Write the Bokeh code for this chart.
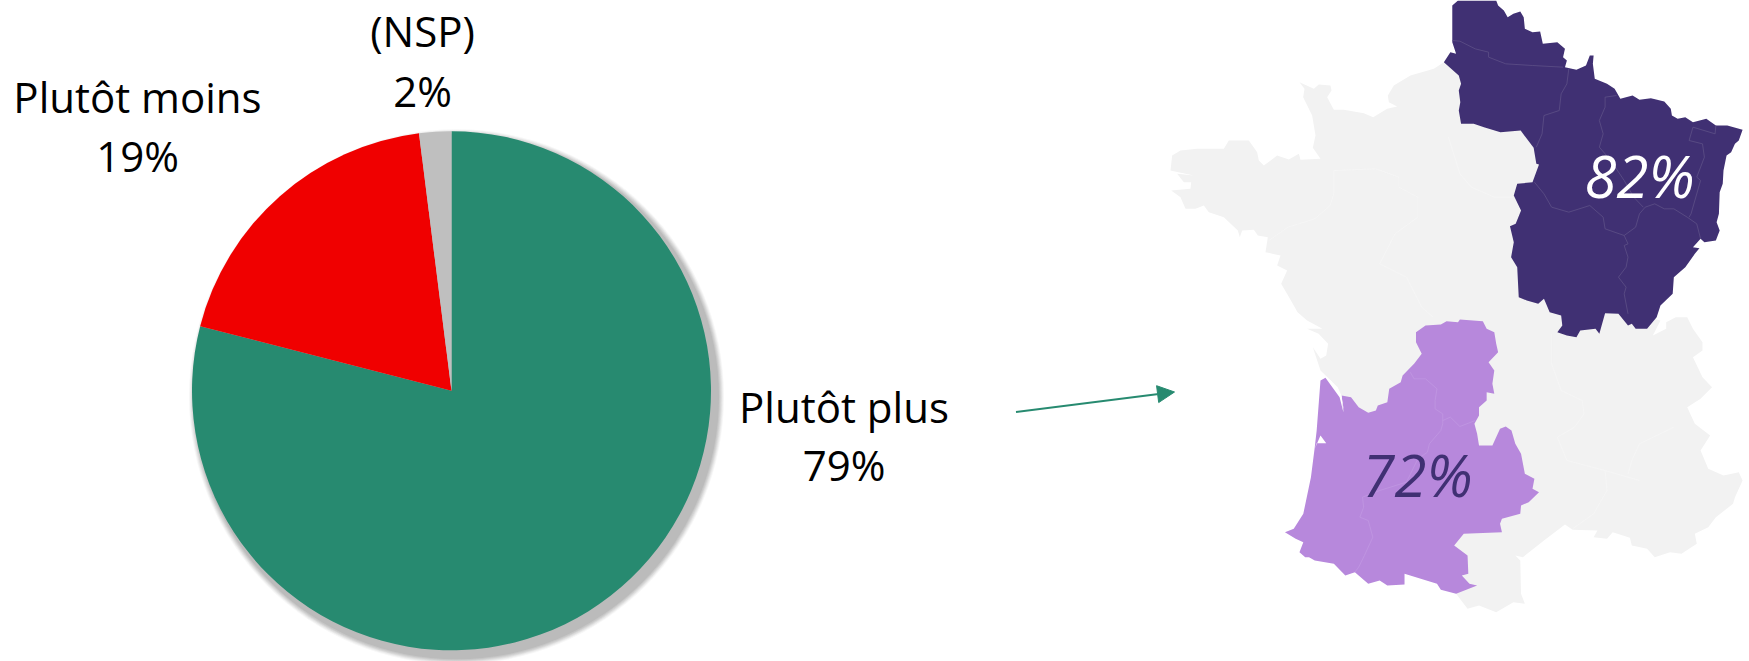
from math import pi
from bokeh.plotting import figure
from bokeh.models import Arrow, NormalHead
from bokeh.core.properties import value
from bokeh.embed import file_html
from bokeh.resources import INLINE

# ---------------- data ----------------
pie_names = ["Plutôt plus", "Plutôt moins", "(NSP)"]
pie_values = [79, 19, 2]
pie_colors = ["#278a70", "#f00000", "#bfbfbf"]
region_shares = ["82%", "72%"]

# North-west coast outline
west_a = [880,850,780,730,712,715,740,710,668,640,580,550,530,543,540,505,490,447,462,458,485,495,487,510,450,445,415,380,340,325,320,295,235,220,180,140,90,65,60,130,80,100,122,120,62,90,105,135,160,175,220,262,268,275,310,322,352,345,390,380,410,392,420]
west_b = [5,25,45,75,105,125,138,145,170,158,148,148,110,90,75,72,85,65,85,110,165,225,262,295,298,280,297,285,315,300,275,240,240,265,265,265,270,285,330,345,340,365,365,385,390,410,445,445,435,455,470,510,530,510,508,525,530,575,585,615,630,670,718]

# Rest of the country outline
france_u = [385,410,450,410,440,465,460,445,425,445,490,500,600,800,830,860,905,950,980,970,968,955,975,1030,1085,1105,1170,1160,1195,1210,1255,1260,1300,1320,1360,1390,1430,1425,1460,1480,1525,1530,1550,1540,1500,1460,1440,1465,1425,1405,1440,1470,1445,1420,1445,1445,1420,1405,1375,1350,1350,1315,1335,1300,1100,860,800]
france_v = [935,960,985,985,1000,1030,1065,1075,1040,1110,1160,1185,1500,1780,1825,1815,1835,1805,1810,1780,1680,1665,1670,1620,1572,1588,1590,1610,1615,1595,1612,1635,1645,1670,1655,1660,1630,1600,1580,1550,1510,1490,1440,1415,1425,1405,1350,1305,1270,1220,1195,1160,1130,1070,1050,1025,985,950,950,965,985,1005,960,950,500,260,170]

dark_u = [790,805,905,910,925,935,950,968,977,980,1000,1020,1027,1065,1085,1080,1090,1085,1115,1140,1150,1160,1158,1163,1195,1215,1230,1262,1280,1310,1345,1362,1365,1380,1400,1420,1455,1480,1510,1550,1540,1530,1520,1508,1500,1498,1490,1488,1482,1490,1480,1450,1440,1420,1437,1425,1400,1370,1367,1335,1325,1300,1270,1260,1250,1225,1190,1175,1165,1125,1115,1090,1065,1078,1075,1045,1030,1015,985,964,960,944,951,941,956,970,951,960,1000,1017,1010,1003,969,916,873,846,813,807,811,807,813,807,768,785,800,790]
dark_v = [15,0,0,15,30,50,40,33,50,85,95,93,130,125,145,170,180,200,208,195,165,165,190,235,250,265,295,285,298,293,303,325,345,355,350,365,355,375,375,388,420,430,455,465,510,550,575,640,665,690,720,725,715,740,743,760,800,830,880,915,950,985,985,970,975,940,938,1000,985,990,1010,1005,995,975,945,935,895,910,900,890,800,770,725,677,670,630,585,550,545,492,490,442,390,395,380,370,370,330,305,270,250,225,185,155,160,125]

purple_u = [720,760,775,805,810,870,880,900,905,910,885,900,895,900,880,880,860,860,848,855,860,895,915,930,945,955,970,980,1005,1000,1017,990,970,968,920,915,920,820,795,830,832,815,835,855,800,760,750,665,665,620,600,570,535,510,480,430,415,405,390,400,380,352,375,400,420,430,435,445,458,495,505,500,525,545,570,590,595,620,625,655,660,690,710,695,695]
purple_v = [975,972,962,965,957,962,985,995,1030,1055,1085,1110,1150,1180,1175,1200,1220,1245,1270,1300,1335,1335,1285,1278,1290,1330,1360,1420,1435,1465,1475,1505,1515,1540,1555,1570,1595,1600,1635,1665,1720,1725,1750,1755,1780,1768,1750,1720,1752,1755,1740,1750,1715,1725,1690,1680,1670,1670,1655,1625,1615,1595,1585,1540,1430,1340,1290,1140,1132,1190,1235,1185,1190,1220,1237,1230,1215,1205,1165,1145,1125,1090,1060,1025,995]

estuary_u = [460,472,500,507,497]
estuary_v = [1132,1140,1185,1237,1183]
bay_u = [445,460,435,430]
bay_v = [1305,1328,1328,1345]

dark_lines = [
    ([790,810,850,885,885,930,1000,1080],[120,122,145,155,170,190,195,200]),
    ([1095,1090,1075,1070,1030,1025,1010],[205,250,280,330,345,400,440]),
    ([1220,1190,1190,1175,1185,1175,1205,1240,1265,1290],[285,290,320,360,400,440,480,540,590,620]),
    ([1005,1030,1050,1095,1150,1185,1190,1240,1270,1280,1295],[545,580,620,635,615,650,685,705,680,640,620]),
    ([1480,1478,1420,1410,1445,1450,1430,1440,1415,1410],[375,400,380,420,430,470,530,540,640,650]),
    ([1295,1320,1345,1370,1405,1430,1440],[620,610,625,625,650,670,715]),
    ([1240,1250,1240,1250,1245,1225,1245,1240,1250],[705,730,735,770,800,830,860,880,940]),
]
purple_lines = [
    ([680,690,720,750,745,745,765,765,760,730,725,700,670,600,555,558,548,570,582,560,545,535],[1115,1135,1135,1165,1200,1225,1240,1270,1290,1330,1355,1375,1445,1470,1490,1520,1550,1560,1610,1665,1700,1715]),
    ([765,785,810,850],[1260,1250,1278,1260]),
]
light_lines = [
    ([480,480,470,430,360,310],[510,580,615,655,680,720]),
    ([480,590,650,650,700,700,640,600,670,710,740],[510,505,530,560,590,650,700,790,830,920,950]),
    ([780,810,840,900,950],[410,520,560,590,590]),
    ([1050,1050,1075,1130,1135,1110,1065,1090,1190,1280],[1000,1090,1170,1200,1240,1280,1310,1380,1410,1440]),
    ([1190,1195,1160,1105],[1410,1470,1540,1585]),
    ([1370,1280,1260,1250],[1280,1330,1380,1420]),
]

# ---------------- helpers ----------------
PAGE_H = 661
def mx(us):
    return [1150 + u * 0.382 for u in us]
def my(vs):
    return [PAGE_H - v / 3 for v in vs]

p = figure(width=1749, height=661, x_range=(0, 1749), y_range=(0, 661),
           x_axis_type=None, y_axis_type=None, toolbar_location=None,
           output_backend="svg", min_border=0, outline_line_color=None,
           background_fill_color="white", border_fill_color="white")
p.grid.visible = False

CX, CY, R = 451, PAGE_H - 390.3, 259.5

# shadow: soft rim then solid band
for dr, a in [(8, .12), (7, .18), (6, .25), (5, .35), (4, .5), (3, 1)]:
    p.circle(x=[CX + 5], y=[CY - 6], radius=R + dr, fill_color="#bbbbbb",
             fill_alpha=a, line_color=None)

# pie
total = sum(pie_values)
angle = pi / 2
ends, starts = [], []
for v in pie_values:
    next_angle = angle - 2 * pi * v / total
    starts.append(next_angle)
    ends.append(angle)
    angle = next_angle
p.wedge(x=[CX] * 3, y=[CY] * 3, radius=R, start_angle=starts, end_angle=ends,
        fill_color=pie_colors, line_color=None)

# map
fx = [1150 + a / 3 for a in west_a] + mx(france_u)
fy = [PAGE_H - (60 + b / 3) for b in west_b] + my(france_v)
p.patch(fx, fy, fill_color="#f2f2f2", line_color=None)
p.multi_line([mx(a) for a, b in light_lines], [my(b) for a, b in light_lines],
             line_color="#f7f7f7", line_width=0.7)
p.patch(mx(dark_u), my(dark_v), fill_color="#403073", line_color=None)
p.patch(mx(purple_u), my(purple_v), fill_color="#b788dc", line_color=None)
p.patch(mx(estuary_u), my(estuary_v), fill_color="white", line_color=None)
p.patch(mx(bay_u), my(bay_v), fill_color="white", line_color=None)
p.multi_line([mx(a) for a, b in dark_lines], [my(b) for a, b in dark_lines],
             line_color="#625589", line_width=0.7)
p.multi_line([mx(a) for a, b in purple_lines], [my(b) for a, b in purple_lines],
             line_color="#c29ae2", line_width=0.7)

# arrow
p.add_layout(Arrow(end=NormalHead(size=17, fill_color="#278a70", line_color="#278a70"),
                   x_start=1015.5, y_start=PAGE_H - 411.5, x_end=1174, y_end=PAGE_H - 391.5,
                   line_color="#278a70", line_width=2))

# labels
def label(x, y, t, size="42px", color="black", style="normal", font="Open Sans"):
    p.text(x=[x], y=[PAGE_H - y], text=[t], text_font=value(font), text_font_size=size,
           text_color=color, text_font_style=style, text_align="center", text_baseline="alphabetic")

label(422, 30, pie_names[2])
label(422, 90, f"{pie_values[2]}%")
label(137, 96, pie_names[1])
label(137, 155, f"{pie_values[1]}%")
label(843.5, 406, pie_names[0])
label(843.5, 464, f"{pie_values[0]}%")
label(1639, 175, region_shares[0], size="58px", color="white", style="italic")
label(1417, 474, region_shares[1], size="58px", color="#403073", style="italic")

open("out.html", "w").write(file_html(p, INLINE))
